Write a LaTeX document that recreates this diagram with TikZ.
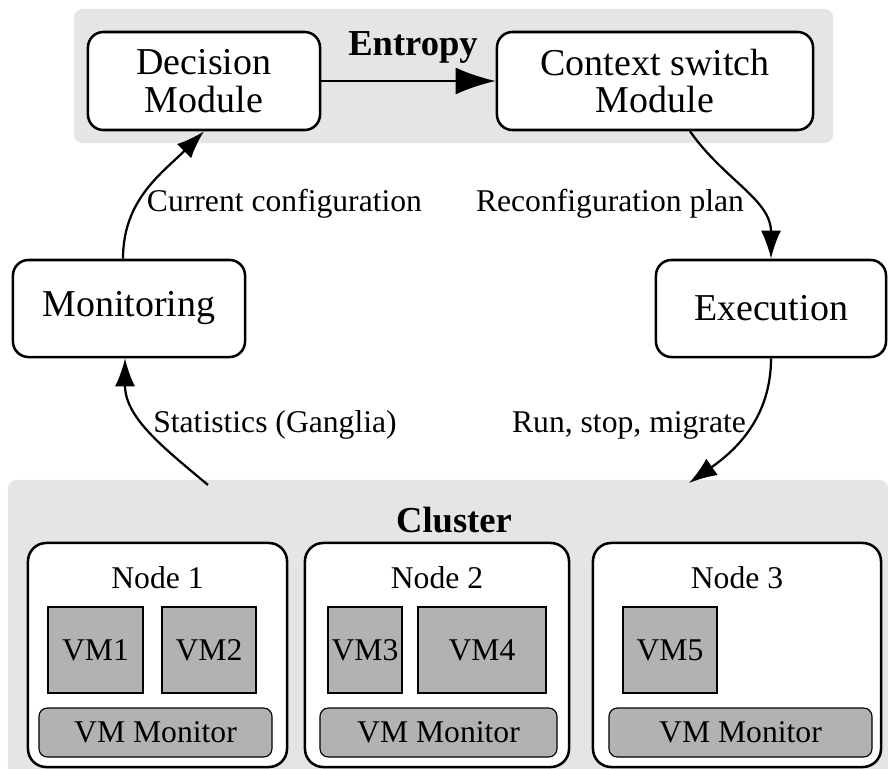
\documentclass[tikz,border=0pt]{standalone}
\usepackage{fontspec}
\setmainfont{Liberation Serif}
\usetikzlibrary{positioning,arrows.meta,shapes}

\begin{document}
\begin{tikzpicture}[x=0.025cm, y=0.025cm, font=\fontsize{22.5}{27}\selectfont,
        area/.style={fill=black!10, rounded corners=6pt},
        module/.style={draw, line width=1.8pt, fill=white, rounded corners=11pt, align=center, font=\fontsize{27}{27}\selectfont},
        host/.style={draw, line width=1.8pt, fill=white, rounded corners=13pt},
        vm/.style={draw, line width=0.8pt, fill=black!30, inner sep=1pt},
        vmm/.style={draw, line width=0.8pt, fill=black!30, rounded corners=6pt},
        flow/.style={-{Latex[length=0.7cm,width=0.5cm]}, line width=1.6pt},
        title/.style={font=\fontsize{26}{30}\selectfont\bfseries}]
    \useasboundingbox (0,0) rectangle (888,-769);
    \node[area, minimum width=18.975cm, minimum height=3.35cm] (entropy) at (453.5,-76) {};
    \node[area, minimum width=22cm, minimum height=7.75cm] (cluster) at (448,-635) {};
    \node[title, anchor=base] at (413,-55) {Entropy};
    \node[title, anchor=base] at (454,-532) {Cluster};
    \node[module, minimum width=5.8cm, minimum height=2.45cm] (dec) at (204,-81) {Decision\\Module};
    \node[module, minimum width=7.9cm, minimum height=2.45cm] (ctx) at (655,-81) {Context switch\\Module};
    \node[module, minimum width=5.8cm, minimum height=2.425cm] (mon) at (129,-308.5) {Monitoring};
    \node[module, minimum width=5.75cm, minimum height=2.425cm] (exe) at (771,-308.5) {Execution};
    \foreach \x/\w/\n in {157.5/6.475/1, 437/6.6/2, 737/7.2/3}{\node[host, minimum width=\w cm, minimum height=5.6cm] (host\n) at (\x,-655) {}; \node[anchor=base] at (\x,-588) {Node \n};}
    \foreach \x/\w/\n in {95.5/2.375/1, 209/2.35/2, 365/1.85/3, 482/3.2/4, 670/2.35/5}{\node[vm, minimum width=\w cm, minimum height=2.15cm] (vm\n) at (\x,-650) {VM\n};}
    \foreach \x/\w/\n in {155.5/5.825/1, 438.5/5.925/2, 740.5/6.575/3}{\node[vmm, minimum width=\w cm, minimum height=1.225cm] (vmm\n) at (\x,-732.5) {VM Monitor};}
    \node[anchor=base] (cur) at (284.5,-211) {Current configuration};
    \node[anchor=base] (rec) at (610,-211) {Reconfiguration plan};
    \node[anchor=base] (sta) at (275,-432) {Statistics (Ganglia)};
    \node[anchor=base] (run) at (629,-432) {Run, stop, migrate};
    \coordinate (toCluster) at (689,-483);
    \coordinate (fromCluster) at (208,-485);
    \draw[-{Latex[length=1cm,width=0.675cm]}, line width=1.6pt] (dec) -- (ctx);
    \draw[flow] ([xshift=-0.15cm]mon.north) to[out=90, in=-135] (dec.south);
    \draw[flow] ([xshift=0.875cm]ctx.south) to[out=-55, in=90] (exe.north);
    \draw[flow] (exe.south) to[out=-90, in=35] (toCluster);
    \draw[flow] (fromCluster) to[out=140, in=-90] ([xshift=-0.1cm]mon.south);
\end{tikzpicture}
\end{document}
